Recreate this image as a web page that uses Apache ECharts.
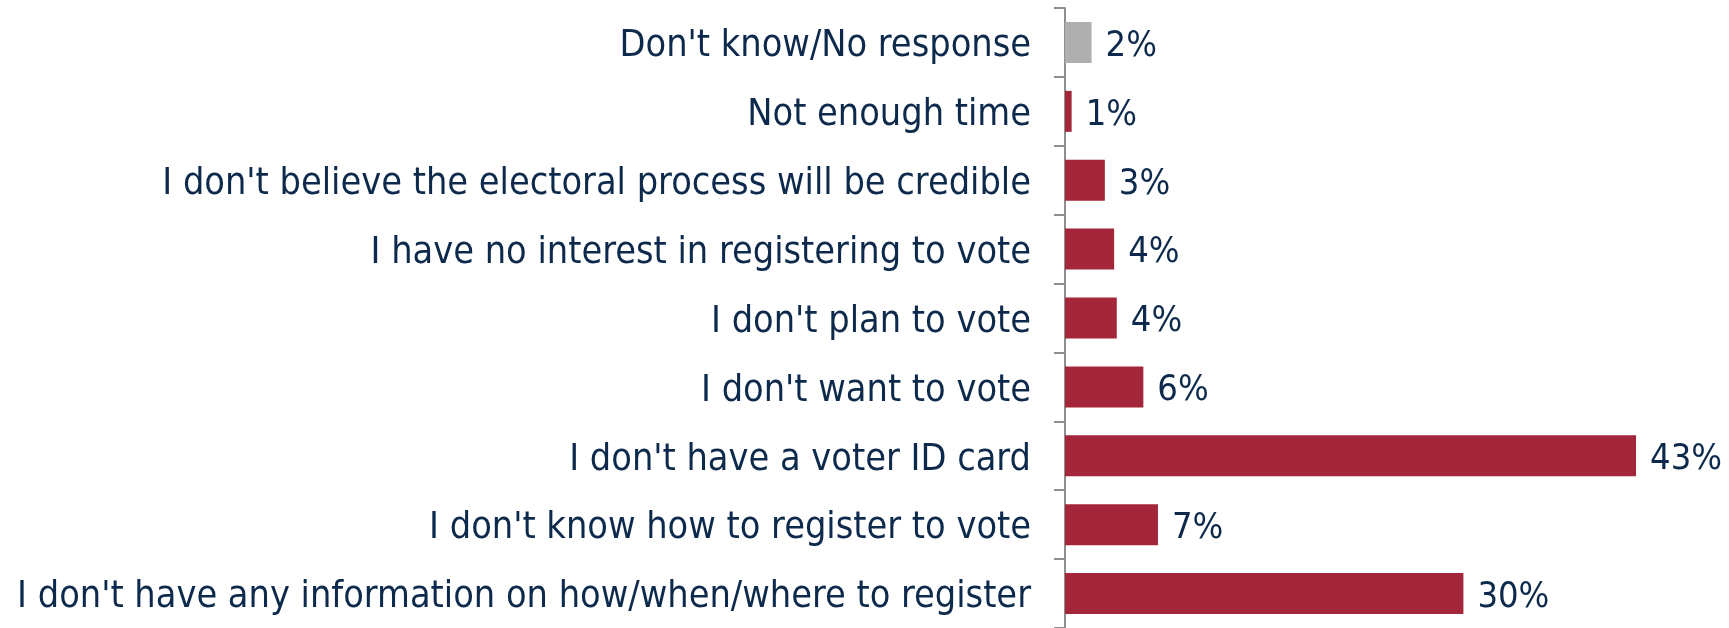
<!DOCTYPE html>
<html>
<head>
<meta charset="utf-8">
<script src="https://cdn.jsdelivr.net/npm/echarts@6/dist/echarts.min.js"></script>
<style>
html,body{margin:0;padding:0;background:#fff;}
#chart{width:1729px;height:628px;}
</style>
</head>
<body>
<div id="chart"></div>
<script>
const categories = [
  "Don't know/No response",
  "Not enough time",
  "I don't believe the electoral process will be credible",
  "I have no interest in registering to vote",
  "I don't plan to vote",
  "I don't want to vote",
  "I don't have a voter ID card",
  "I don't know how to register to vote",
  "I don't have any information on how/when/where to register"
];
const values = [2.0, 0.5, 3.0, 3.7, 3.9, 5.9, 43.0, 7.0, 30.0];
const valueLabels = ["2%", "1%", "3%", "4%", "4%", "6%", "43%", "7%", "30%"];
const barColors = ["#AFAFAF", "#A3263A", "#A3263A", "#A3263A", "#A3263A", "#A3263A", "#A3263A", "#A3263A", "#A3263A"];

const textColor = "#0D2A4C";
const fontFam = "'DejaVu Sans Condensed', 'DejaVu Sans', sans-serif";

const chart = echarts.init(document.getElementById('chart'));
chart.setOption({
  animation: false,
  grid: { left: 1065, right: 0, top: 8, bottom: -1, containLabel: false },
  xAxis: {
    type: 'value', min: 0, max: 50,
    show: false
  },
  yAxis: {
    type: 'category',
    inverse: true,
    data: categories,
    axisLine: { show: true, lineStyle: { color: '#8F8F8F', width: 2 } },
    axisTick: { show: true, length: 11, lineStyle: { color: '#8F8F8F', width: 2 } },
    axisLabel: {
      color: textColor, fontSize: 37.5, fontFamily: fontFam, margin: 34,
      formatter: v => '{a|' + v + '}',
      rich: { a: { color: textColor, fontSize: 37.5, fontFamily: fontFam, padding: [8, 0, 0, 0] } }
    }
  },
  series: [{
    type: 'bar',
    barWidth: 41,
    data: values.map((v, i) => ({ value: v, itemStyle: { color: barColors[i] } })),
    label: {
      show: true, position: 'right', distance: 14, offset: [0, 4],
      color: textColor, fontSize: 36, fontFamily: fontFam,
      formatter: p => valueLabels[p.dataIndex]
    }
  }]
});
</script>
</body>
</html>
